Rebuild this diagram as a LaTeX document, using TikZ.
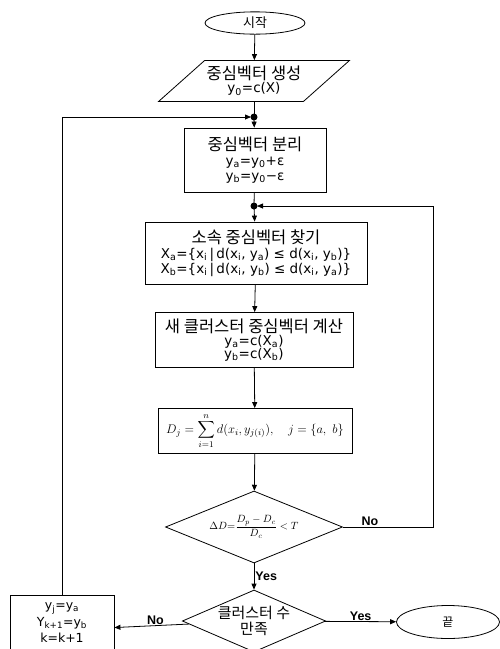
\RequirePackage{fix-cm}
\documentclass[tikz,border=0pt]{standalone}
\usepackage{fontspec}
\setmainfont{Noto Sans CJK KR}
\newfontfamily\etiqFont{Liberation Sans}
\newfontfamily\formFont{DejaVu Sans}
\usepackage{amsmath}
\usepackage{tikz}
\usetikzlibrary{arrows.meta, positioning, shapes.geometric}
\newcommand{\ix}[1]{\textsubscript{#1}}
\newcommand{\titreFont}{\normalfont\fontsize{16.5}{18}\selectfont}
\tikzset{
  %% ── Boxes ──
  boite/.style      = {draw=black, line width=0.8pt, fill=white, align=center,
                       inner sep=2pt, font=\formFont\fontsize{13.5}{16}\selectfont},
  boiteFin/.style   = {boite, ellipse, minimum width=100pt, minimum height=22pt},
  boiteDonnee/.style= {boite, trapezium, trapezium stretches=true,
                       trapezium left angle=36, trapezium right angle=144},
  boiteTest/.style  = {boite, diamond, aspect=2.4, inner sep=0pt},
  %% ── Arrows ──
  fleche/.style     = {-{Triangle[length=6pt, width=5pt]}, draw=black,
                       line width=0.8pt},
  trait/.style      = {draw=black, line width=0.8pt},
  point/.style      = {circle, fill=black, inner sep=0pt, minimum size=7pt},
  %% ── Text ──
  etiquette/.style  = {font=\etiqFont\fontsize{12.5}{14}\selectfont\bfseries,
                       inner sep=1pt},
}

\begin{document}
\begin{tikzpicture}[x=1pt, y=-1pt]
\useasboundingbox[fill=white] (0,0) rectangle (500,649);

\node[boiteFin, minimum width=100pt, minimum height=20pt,
      font=\normalfont\fontsize{13}{14}\selectfont] (debut) at (255,23) {시작};
\node[boiteDonnee, minimum width=178pt, minimum height=41pt] (gen) at (254,81)
     {{\titreFont 중심벡터 생성}\\[-3pt]y\ix{0}=c(X)};
\coordinate (j1) at (254,117);
\node[boite, minimum width=142pt, minimum height=64pt] (split) at (255,160)
     {{\titreFont 중심벡터 분리}\\[-1pt]y\ix{a}=y\ix{0}+ε\\[-1pt]y\ix{b}=y\ix{0}−ε};
\coordinate (j2) at (254,206);
\node[boite, minimum width=222pt, minimum height=62pt] (find) at (256,253)
     {{\titreFont 소속 중심벡터 찾기}\\[-1pt]
      X\ix{a}=\{x\ix{i}\,|\,d(x\ix{i}, y\ix{a}) ≤ d(x\ix{i}, y\ix{b})\}\\[-1pt]
      X\ix{b}=\{x\ix{i}\,|\,d(x\ix{i}, y\ix{b}) ≤ d(x\ix{i}, y\ix{a})\}};
\node[boite, minimum width=198pt, minimum height=55pt] (upd) at (254,340)
     {{\titreFont 새 클러스터 중심벡터 계산}\\[-3pt]y\ix{a}=c(X\ix{a})\\[-3pt]y\ix{b}=c(X\ix{b})};
\node[boite, minimum width=194pt, minimum height=45pt] (dist) at (255,431)
     {\fontsize{12.5}{14}\selectfont$\displaystyle D_j=\sum_{i=1}^{n} d(x_i,y_{j(i)}),\quad j=\{a,\ b\}$};
\node[boiteTest, minimum width=177pt, minimum height=72pt] (conv) at (254,527)
     {\fontsize{10.5}{12}\selectfont$\Delta D{=}\dfrac{D_p-D_c}{D_c}<T$};
\node[boiteTest, minimum width=140pt, minimum height=62pt,
      font=\normalfont\fontsize{15}{16}\selectfont] (cnt) at (254,621)
     {클러스터 수\\만족};
\node[boite, minimum width=104pt, minimum height=70pt] (newc) at (62,630) {};
\node[align=center, font=\formFont\fontsize{12.5}{16.5}\selectfont] (newcTxt) at (62,623)
     {y\ix{j}=y\ix{a}\\Y\ix{k+1}=y\ix{b}\\k=k+1};
\node[boiteFin, minimum width=103pt, minimum height=33pt,
      font=\normalfont\fontsize{12}{14}\selectfont] (fin) at (448,622) {끝};

\coordinate (loopA) at (62,117);
\coordinate (loopB) at (433,527);
\coordinate (loopC) at (433,206);

\draw[fleche] (debut) -- (gen);
\draw[trait] (gen) -- (j1);
\draw[fleche] (j1) -- (split);
\draw[trait] (split) -- (j2);
\draw[fleche] (j2) -- (find);
\draw[fleche] (find) -- (upd);
\draw[fleche] (upd) -- (dist);
\draw[fleche] (dist) -- (conv);
\draw[fleche] (conv) -- node[etiquette, right] {Yes} (cnt);
\draw[fleche] (cnt) -- node[etiquette, above, pos=0.45] {No} (newc);
\draw[fleche] (cnt) -- node[etiquette, above] {Yes} (fin);
\draw[fleche] (newc.north) -- (loopA) -- ([xshift=-3pt]j1);
\draw[fleche] (conv.east) -- node[etiquette, above, pos=0.3] {No} (loopB) -- (loopC) -- ([xshift=3pt]j2);

\node[point] (p1) at (j1) {};
\node[point] (p2) at (j2) {};

\end{tikzpicture}
\end{document}
